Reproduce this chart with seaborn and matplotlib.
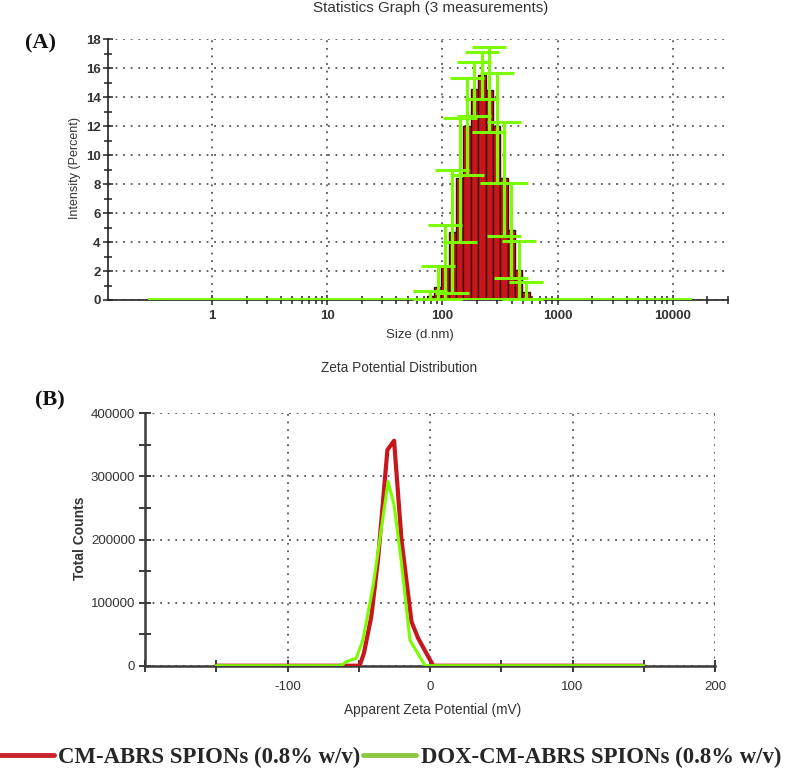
import numpy as np
import pandas as pd
import matplotlib
matplotlib.use("Agg")
import matplotlib.pyplot as plt
from matplotlib.lines import Line2D
from matplotlib.ticker import FixedLocator, MultipleLocator, NullFormatter
import seaborn as sns

# ---------------- data ----------------
# (A) DLS size distribution (Malvern size classes, d.nm)
size_nm = [78.82, 91.28, 105.7, 122.4, 141.8, 164.2, 190.1, 220.2, 255.0, 295.3, 342.0, 396.1, 458.7, 531.2]
intensity_pct = [0.28, 0.92, 2.26, 4.7, 8.4, 12.0, 14.6, 15.55, 14.5, 12.0, 8.4, 4.8, 2.07, 0.57]
err_upper = [0.62, 2.35, 5.2, 9.0, 12.6, 15.3, 16.45, 17.1, 17.47, 15.7, 12.26, 8.06, 4.08, 1.22]
err_lower = [0.0, 0.0, 0.0, 0.46, 4.0, 8.6, 12.7, 13.9, 11.6, 8.1, 4.45, 1.54, 0.06, 0.0]
size_range = [0.28, 14600]          # measured size range (baseline)
size_ticks = [1, 10, 100, 1000, 10000]
size_ticklabels = ["1", "10", "100", "1000", "10000"]

# (B) Zeta potential distribution
red_mv = [-150, -60, -49.4, -46.4, -41.2, -36.5, -29.9, -25.2, -20.0, -13.0, -8.3, 2.3, 150]
red_counts = [0, 0, 0, 19600, 77700, 167500, 341900, 356600, 199200, 69700, 43400, 0, 0]
green_mv = [-150, -62.4, -58.9, -51.8, -47.1, -40.0, -29.4, -25.2, -20.0, -14.1, -3.5, 150]
green_counts = [0, 0, 6300, 11700, 40700, 125200, 291700, 254700, 162300, 40700, 0, 0]
series_names = ["CM-ABRS SPIONs (0.8% w/v)", "DOX-CM-ABRS SPIONs (0.8% w/v)"]

# ---------------- style ----------------
sns.set_theme(style="white")
plt.rcParams["font.family"] = ["Liberation Sans", "DejaVu Sans"]
plt.rcParams["axes.unicode_minus"] = False

RED = "#c8161d"
GREEN = "#7cfc00"
LEG_RED = "#c9232b"
LEG_GREEN = "#8dc63f"
GRID_KW = dict(linestyle=(0, (1, 3.2)), color="#555555", linewidth=1.3)
SERIF = ["Liberation Serif", "DejaVu Serif"]

W, H = 787, 777
fig = plt.figure(figsize=(W / 100, H / 100), dpi=100)


def fx(px):
    return px / W


def fy(py):
    return 1 - py / H


# ---------------- panel A ----------------
axA = fig.add_axes([fx(108.3), fy(300), fx(727.7) - fx(108.3), fy(39.3) - fy(300)])
logc = np.log10(size_nm)
bw = float(np.median(np.diff(logc)))
brange = (float(logc[0] - bw / 2), float(logc[-1] + bw / 2))
dfA = pd.DataFrame({"size": size_nm, "intensity": intensity_pct})
sns.histplot(data=dfA, x="size", weights="intensity", bins=len(size_nm), binrange=brange,
             log_scale=True, color=RED, edgecolor="#3b0606", linewidth=1.0, alpha=1,
             ax=axA, zorder=2)
vals = np.array(intensity_pct)
axA.errorbar(size_nm, vals, yerr=[vals - np.array(err_lower), np.array(err_upper) - vals],
             fmt="none", ecolor=GREEN, elinewidth=2.2, capsize=12, capthick=2.2, zorder=4)
axA.plot(size_range, [0, 0], color=GREEN, lw=2.8, zorder=5, solid_capstyle="butt")
axA.set_xscale("log")
axA.set_xlim(0.126, 30000)
axA.set_ylim(0, 18)
axA.set_xticks(size_ticks)
axA.set_xticklabels(size_ticklabels)
minor_x = [m * 10 ** e for e in range(0, 5) for m in range(2, 10) if m * 10 ** e <= 30000]
axA.xaxis.set_minor_locator(FixedLocator(minor_x))
axA.xaxis.set_minor_formatter(NullFormatter())
axA.yaxis.set_major_locator(MultipleLocator(2))
axA.yaxis.set_minor_locator(MultipleLocator(1))
axA.set_xlabel("")
axA.set_ylabel("")
axA.grid(True, which="major", **GRID_KW)
axA.set_axisbelow(True)
for s in ["top", "right"]:
    axA.spines[s].set_visible(False)
for s in ["left", "bottom"]:
    axA.spines[s].set_color("#222222")
    axA.spines[s].set_linewidth(1.2)
axA.tick_params(axis="both", which="major", direction="inout", length=7, width=1.1,
                color="#222222", labelsize=9.5, bottom=True, left=True)
axA.tick_params(axis="x", which="major", pad=4)
axA.tick_params(axis="y", which="major", pad=2)
axA.tick_params(axis="both", which="minor", direction="inout", length=6, width=1.1,
                color="#222222", bottom=True, left=True)
for lab in axA.get_xticklabels() + axA.get_yticklabels():
    lab.set_fontweight("bold")
    lab.set_color("#333333")

fig.text(fx(431), fy(8), "Statistics Graph (3 measurements)", ha="center", va="center",
         fontsize=11, color="#333333")
fig.text(fx(75), fy(168), "Intensity (Percent)", ha="center", va="center", rotation=90,
         fontsize=9, color="#333333")
fig.text(fx(420), fy(335), "Size (d.nm)", ha="center", va="center", fontsize=9.5, color="#333333")
fig.text(fx(40), fy(43), "(A)", ha="center", va="center", fontsize=16, fontweight="bold",
         family=SERIF, color="#111111")

# ---------------- panel B ----------------
axB = fig.add_axes([fx(145), fy(665.7), fx(715) - fx(145), fy(413.3) - fy(665.7)])
dfR = pd.DataFrame({"mV": red_mv, "counts": red_counts})
dfG = pd.DataFrame({"mV": green_mv, "counts": green_counts})
sns.lineplot(data=dfR, x="mV", y="counts", color=RED, lw=3.0, sort=False, ax=axB, zorder=4)
sns.lineplot(data=dfG, x="mV", y="counts", color=GREEN, lw=2.2, sort=False, ax=axB, zorder=5)
axB.set_xlim(-200, 200)
axB.set_ylim(0, 400000)
axB.xaxis.set_major_locator(MultipleLocator(100))
axB.xaxis.set_minor_locator(MultipleLocator(50))
axB.yaxis.set_major_locator(MultipleLocator(100000))
axB.yaxis.set_minor_locator(MultipleLocator(50000))
axB.set_xticks([-200, -100, 0, 100, 200])
axB.set_xticklabels(["", "-100", "0", "100", "200"])
axB.set_xlabel("")
axB.set_ylabel("")
axB.grid(True, which="major", **GRID_KW)
axB.set_axisbelow(True)
for s in ["top", "right"]:
    axB.spines[s].set_visible(False)
for s in ["left", "bottom"]:
    axB.spines[s].set_color("#3a3a3a")
    axB.spines[s].set_linewidth(1.8)
axB.tick_params(axis="both", which="both", direction="inout", length=8, width=1.4,
                color="#3a3a3a", labelsize=9.6, bottom=True, left=True)
axB.tick_params(axis="x", which="major", pad=7)
axB.tick_params(axis="y", which="major", pad=3)
for lab in axB.get_xticklabels() + axB.get_yticklabels():
    lab.set_color("#333333")

fig.text(fx(399), fy(367.7), "Zeta Potential Distribution", ha="center", va="center",
         fontsize=9.8, color="#333333")
fig.text(fx(80), fy(538), "Total Counts", ha="center", va="center", rotation=90,
         fontsize=10, fontweight="bold", color="#333333")
fig.text(fx(432.7), fy(710), "Apparent Zeta Potential (mV)", ha="center", va="center",
         fontsize=9.8, color="#333333")
fig.text(fx(50), fy(400), "(B)", ha="center", va="center", fontsize=16, fontweight="bold",
         family=SERIF, color="#111111")

# ---------------- legend ----------------
handles = [Line2D([], [], color=LEG_RED, lw=3.5), Line2D([], [], color=LEG_GREEN, lw=3.5)]
fig.legend(handles, series_names, loc="center left", bbox_to_anchor=(0.0, fy(757)),
           ncol=2, frameon=False, handlelength=2.35, handletextpad=0.2, columnspacing=0.1,
           borderpad=0, borderaxespad=0,
           prop={"family": SERIF, "weight": "bold", "size": 16.4})

fig.savefig("out.png", dpi=100)
